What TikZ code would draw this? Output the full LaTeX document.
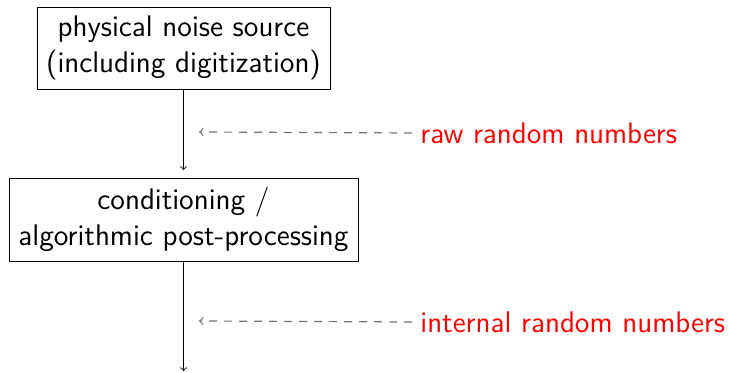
\documentclass[tikz,border=0pt]{standalone}
\usetikzlibrary{arrows}
\begin{document}
\begin{tikzpicture}[x=0.5pt,y=-0.5pt,
  txt/.style={font=\sffamily\fontsize{14.9}{18}\selectfont},
  box/.style={draw,align=center,txt,inner sep=0pt},
  lbl/.style={anchor=west,text=red,txt,inner sep=4pt},
  flow/.style={->,>=to},
  note/.style={->,>=to,black!55,line width=0.6pt,dash pattern=on 4pt off 3.5pt}]
\useasboundingbox (0,0) rectangle (729,373);
\node[box,minimum width=146.5pt,minimum height=41pt] (src) at (183.5,48) {physical noise source\\(including digitization)};
\node[box,minimum width=174.5pt,minimum height=41.5pt] (cond) at (183.5,219.5) {conditioning /\\algorithmic post-processing};
\coordinate (a1) at (183.5,170);
\coordinate (out) at (183.5,371);
\draw[flow] (src.south) -- (a1);
\draw[flow] (cond.south) -- (out);
\node[lbl] (raw) at (412,133) {raw random numbers};
\node[lbl] (int) at (412,322) {internal random numbers};
\coordinate (t1) at (199,132);
\coordinate (t2) at (199,321);
\draw[note] (raw.west) -- (t1);
\draw[note] (int.west) -- (t2);
\end{tikzpicture}
\end{document}
